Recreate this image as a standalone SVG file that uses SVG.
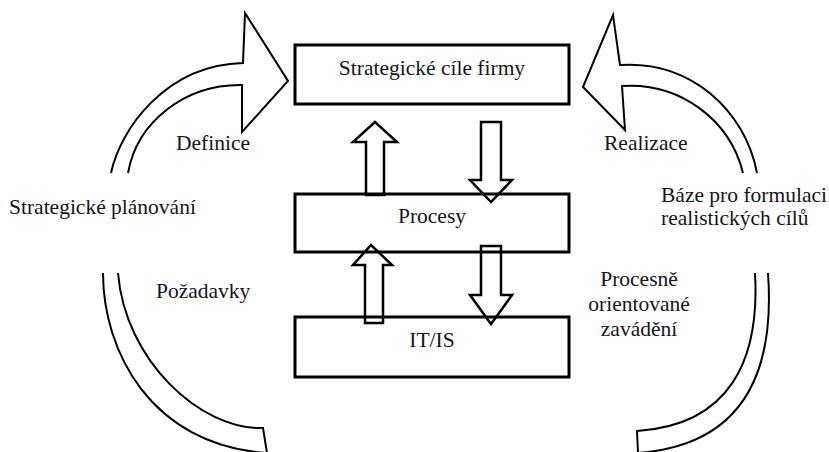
<svg xmlns="http://www.w3.org/2000/svg" width="829" height="452" viewBox="0 0 829 452">
  <style>
    text { font-size: 21.5px; fill: #141420; }
    .mid { text-anchor: middle; }
    .box { fill: none; stroke: #000; stroke-width: 3; }
    .block { fill: #fff; stroke: #000; stroke-width: 2.5; stroke-linejoin: miter; }
    .curve { fill: #fff; stroke: #000; stroke-width: 2; stroke-linejoin: miter; }
  </style>
  <rect width="829" height="452" fill="#fff"/>

  <!-- connectors: block arrows between layers and the two curved cycle arrows -->
  <g id="connectors">
    <!-- Procesy -> Strategické cíle firmy -->
    <polygon class="block" points="366,195 366,142 353,142 375,122 397,142 384,142 384,195"/>
    <!-- Strategické cíle firmy -> Procesy -->
    <polygon class="block" points="481,122 501,122 501,180 512,180 491,202 470,180 481,180"/>
    <!-- IT/IS -> Procesy -->
    <polygon class="block" points="365,323 365,265 353,265 371,245 392,265 383,265 383,323"/>
    <!-- Procesy -> IT/IS -->
    <polygon class="block" points="481,246 501,246 501,295 512,295 491,324 470,295 481,295"/>

    <!-- left cycle: upper part with head (Definice) -->
    <path class="curve" d="M111,173 C120,130 165,65 243,63 L245,13 L288,81 L242,132 L242,85 C185,84 137,122 128,173"/>
    <!-- left cycle: lower tail (Požadavky) -->
    <path class="curve" d="M118,273 C125,360 200,430 263,428 L267,453 C150,445 103,350 103,273"/>

    <!-- right cycle: upper part with head (Realizace) -->
    <path class="curve" d="M743,173 C730,120 680,82 622,86 L625,130 L583,87 L613,15 L620,65 C690,60 745,110 757,173"/>
    <!-- right cycle: lower tail (Procesně orientované zavádění) -->
    <path class="curve" d="M755,273 C760,360 730,425 637,431 L638,453 C745,445 775,370 768,273"/>
  </g>

  <g font-family="'Liberation Serif', 'Times New Roman', Times, 'DejaVu Serif', serif">
    <!-- layer boxes -->
    <g id="node-strategicke-cile">
      <rect class="box" x="295" y="45" width="274" height="59"/>
      <text class="mid" x="432" y="75">Strategické cíle firmy</text>
    </g>
    <g id="node-procesy">
      <rect class="box" x="295" y="194" width="274" height="58"/>
      <text class="mid" x="432" y="223">Procesy</text>
    </g>
    <g id="node-it-is">
      <rect class="box" x="295" y="317" width="274" height="60"/>
      <text class="mid" x="432" y="347">IT/IS</text>
    </g>

    <!-- labels on the cycle -->
    <g id="labels">
      <text x="176" y="150">Definice</text>
      <text x="9" y="214">Strategické plánování</text>
      <text x="156" y="298">Požadavky</text>
      <text x="604" y="150">Realizace</text>
      <text x="661" y="202">Báze pro formulaci</text>
      <text x="661" y="225">realistických cílů</text>
      <text class="mid" x="639" y="286">Procesně</text>
      <text class="mid" x="639" y="311">orientované</text>
      <text class="mid" x="639" y="336">zavádění</text>
    </g>
  </g>
</svg>
